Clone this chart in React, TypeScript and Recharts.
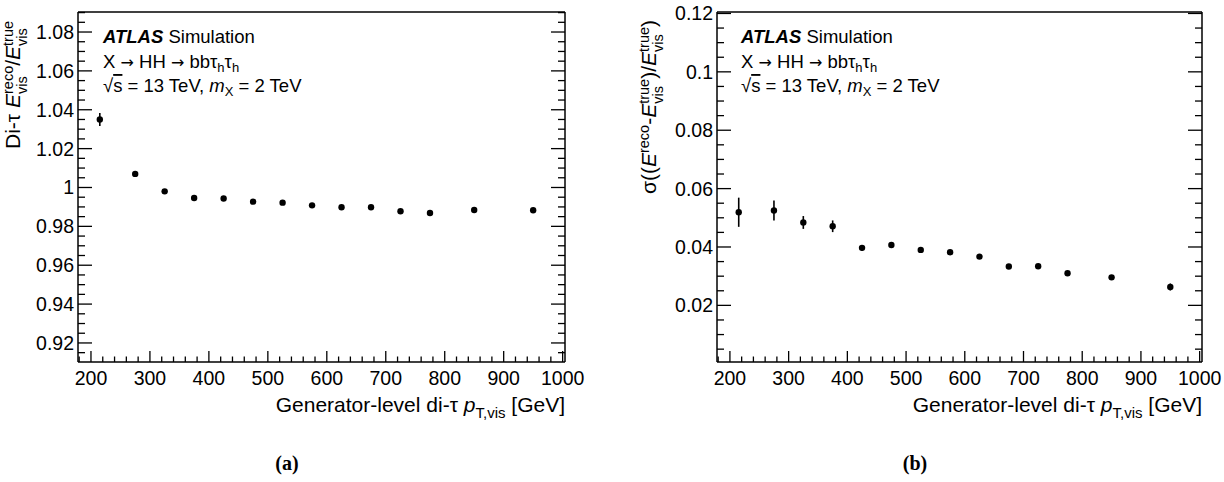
import React from 'react';
import { ScatterChart, Scatter, XAxis, YAxis, ErrorBar } from 'recharts';

// generator-level di-tau visible pT bin centres [GeV]
const ptBins = [215, 275, 325, 375, 425, 475, 525, 575, 625, 675, 725, 775, 850, 950];

// (a) energy scale E_reco / E_true
const scaleValues = [1.035, 1.007, 0.998, 0.9946, 0.9943, 0.9927, 0.9922, 0.9908, 0.9898, 0.9898, 0.9878, 0.9869, 0.9884, 0.9883];
const scaleErrors = [0.0033, 0.0008, 0.0006, 0.0005, 0.0005, 0.0005, 0.0005, 0.0005, 0.0005, 0.0005, 0.0005, 0.0005, 0.0005, 0.0005];

// (b) resolution sigma((E_reco - E_true) / E_true)
const resValues = [0.0519, 0.0525, 0.0484, 0.0471, 0.0397, 0.0407, 0.039, 0.0382, 0.0367, 0.0333, 0.0334, 0.031, 0.0296, 0.0263];
const resErrors = [0.005, 0.0034, 0.0022, 0.002, 0.001, 0.001, 0.0008, 0.0008, 0.0008, 0.0008, 0.0008, 0.0008, 0.0008, 0.0012];

const xMajor = [200, 300, 400, 500, 600, 700, 800, 900, 1000];
const xMajorLabels = ['200', '300', '400', '500', '600', '700', '800', '900', '1000'];
const xAllTicks = [
  180, 200, 220, 240, 260, 280, 300, 320, 340, 360, 380, 400, 420, 440, 460, 480, 500,
  520, 540, 560, 580, 600, 620, 640, 660, 680, 700, 720, 740, 760, 780, 800, 820, 840,
  860, 880, 900, 920, 940, 960, 980, 1000,
];

const yScaleMajor = [0.92, 0.94, 0.96, 0.98, 1, 1.02, 1.04, 1.06, 1.08];
const yScaleLabels = ['0.92', '0.94', '0.96', '0.98', '1', '1.02', '1.04', '1.06', '1.08'];
const yScaleAllTicks = [
  0.915, 0.92, 0.925, 0.93, 0.935, 0.94, 0.945, 0.95, 0.955, 0.96, 0.965, 0.97, 0.975,
  0.98, 0.985, 0.99, 0.995, 1, 1.005, 1.01, 1.015, 1.02, 1.025, 1.03, 1.035, 1.04, 1.045,
  1.05, 1.055, 1.06, 1.065, 1.07, 1.075, 1.08, 1.085, 1.09,
];

const yResMajor = [0.02, 0.04, 0.06, 0.08, 0.1, 0.12];
const yResLabels = ['0.02', '0.04', '0.06', '0.08', '0.1', '0.12'];
const yResAllTicks = [
  0.005, 0.01, 0.015, 0.02, 0.025, 0.03, 0.035, 0.04, 0.045, 0.05, 0.055, 0.06, 0.065,
  0.07, 0.075, 0.08, 0.085, 0.09, 0.095, 0.1, 0.105, 0.11, 0.115, 0.12,
];

const FONT = '"Liberation Sans", Arial, Helvetica, sans-serif';
const CH = 430;
const TICK_FS = 19.5;
const axisStroke = { stroke: '#000', strokeWidth: 1.5 };

type Side = 'bottom' | 'top' | 'left' | 'right';

const makeTick = (side: Side, majors: number[], labels: string[] | null, majorLen: number, minorLen: number) =>
  (p: any) => {
    const v = p.payload.value;
    const idx = majors.findIndex((m) => Math.abs(m - v) < 1e-7);
    const len = idx >= 0 ? majorLen : minorLen;
    const { x, y } = p;
    let line;
    if (side === 'bottom') line = <line x1={x} x2={x} y1={y} y2={y - len} />;
    else if (side === 'top') line = <line x1={x} x2={x} y1={y} y2={y + len} />;
    else if (side === 'left') line = <line x1={x} x2={x + len} y1={y} y2={y} />;
    else line = <line x1={x} x2={x - len} y1={y} y2={y} />;
    let label = null;
    if (labels && idx >= 0) {
      if (side === 'bottom')
        label = <text x={x} y={y + 23} textAnchor="middle" fontSize={TICK_FS} fontFamily={FONT} fill="#000">{labels[idx]}</text>;
      else if (side === 'left')
        label = <text x={x - 4} y={y + 7} textAnchor="end" fontSize={TICK_FS} fontFamily={FONT} fill="#000">{labels[idx]}</text>;
    }
    return (
      <g>
        <g stroke="#000" strokeWidth={1.3}>{line}</g>
        {label}
      </g>
    );
  };

type PanelProps = {
  values: number[];
  errors: number[];
  yDomain: [number, number];
  yMajor: number[];
  yLabels: string[];
  yTicks: number[];
  margin: { top: number; right: number; bottom: number; left: number };
};

const Panel = ({ values, errors, yDomain, yMajor, yLabels, yTicks, margin }: PanelProps) => {
  const data = ptBins.map((x, i) => ({ x, y: values[i], err: errors[i] }));
  const xDomain: [number, number] = [178, 1004];
  return (
    <ScatterChart width={612} height={CH} margin={margin}>
      <XAxis
        xAxisId={0}
        type="number"
        dataKey="x"
        domain={xDomain}
        allowDataOverflow
        ticks={xAllTicks}
        interval={0}
        tickSize={0}
        tickMargin={0}
        tickLine={false}
        axisLine={axisStroke}
        height={30}
        tick={makeTick('bottom', xMajor, xMajorLabels, 11, 5.5)}
      />
      <XAxis
        xAxisId="top"
        orientation="top"
        type="number"
        domain={xDomain}
        allowDataOverflow
        ticks={xAllTicks}
        interval={0}
        tickSize={0}
        tickMargin={0}
        tickLine={false}
        axisLine={axisStroke}
        height={1}
        tick={makeTick('top', xMajor, null, 11, 5.5)}
      />
      <YAxis
        yAxisId={0}
        type="number"
        dataKey="y"
        domain={yDomain}
        allowDataOverflow
        ticks={yTicks}
        interval={0}
        tickSize={0}
        tickMargin={0}
        tickLine={false}
        axisLine={axisStroke}
        width={60}
        tick={makeTick('left', yMajor, yLabels, 14, 7)}
      />
      <YAxis
        yAxisId="right"
        orientation="right"
        type="number"
        domain={yDomain}
        allowDataOverflow
        ticks={yTicks}
        interval={0}
        tickSize={0}
        tickMargin={0}
        tickLine={false}
        axisLine={axisStroke}
        width={1}
        tick={makeTick('right', yMajor, null, 14, 7)}
      />
      <Scatter
        xAxisId={0}
        yAxisId={0}
        data={data}
        dataKey="y"
        isAnimationActive={false}
        shape={(p: any) => <circle cx={p.cx} cy={p.cy} r={3.2} fill="#000" />}
      >
        <ErrorBar dataKey="err" direction="y" width={0} stroke="#000" strokeWidth={1.6} isAnimationActive={false} />
      </Scatter>
    </ScatterChart>
  );
};

const SUP = 13;
const TSUP = 14.5;

const Annotation = ({ x }: { x: number }) => (
  <g fontFamily={FONT} fontSize={18.5} fill="#000">
    <text x={x} y={43}>
      <tspan fontWeight="bold" fontStyle="italic">ATLAS</tspan>
      <tspan> Simulation</tspan>
    </text>
    <text x={x} y={68}>
      <tspan>X </tspan>
      <tspan fontFamily='"DejaVu Sans", sans-serif' fontSize={16}>→</tspan>
      <tspan> HH </tspan>
      <tspan fontFamily='"DejaVu Sans", sans-serif' fontSize={16}>→</tspan>
      <tspan> bbτ</tspan>
      <tspan fontSize={SUP} dy={4}>h</tspan>
      <tspan dy={-4}>τ</tspan>
      <tspan fontSize={SUP} dy={4}>h</tspan>
    </text>
    <text x={x} y={92}>
      <tspan>√</tspan>
      <tspan textDecoration="overline">s</tspan>
      <tspan> = 13 TeV, </tspan>
      <tspan fontStyle="italic">m</tspan>
      <tspan fontSize={SUP} dy={4}>X</tspan>
      <tspan dy={-4}> = 2 TeV</tspan>
    </text>
  </g>
);

const XTitle = ({ right }: { right: number }) => (
  <text x={right} y={412} textAnchor="end" fontFamily={FONT} fontSize={21} fill="#000">
    <tspan>Generator-level di-τ </tspan>
    <tspan fontStyle="italic">p</tspan>
    <tspan fontSize={15} dy={6}>T,vis</tspan>
    <tspan dy={-6}> [GeV]</tspan>
  </text>
);

export default function App() {
  return (
    <div style={{ position: 'absolute', left: 0, top: 0, width: 1224, height: 482, background: '#fff' }}>
      <div style={{ position: 'absolute', left: 0, top: 0 }}>
        <Panel
          values={scaleValues}
          errors={scaleErrors}
          yDomain={[0.9102, 1.0903]}
          yMajor={yScaleMajor}
          yLabels={yScaleLabels}
          yTicks={yScaleAllTicks}
          margin={{ top: 11, right: 46, bottom: 38, left: 18 }}
        />
      </div>
      <div style={{ position: 'absolute', left: 612, top: 0 }}>
        <Panel
          values={resValues}
          errors={resErrors}
          yDomain={[0.0006, 0.1205]}
          yMajor={yResMajor}
          yLabels={yResLabels}
          yTicks={yResAllTicks}
          margin={{ top: 11, right: 21, bottom: 38, left: 45 }}
        />
      </div>
      <svg width={1224} height={482} style={{ position: 'absolute', left: 0, top: 0, pointerEvents: 'none' }}>
        <Annotation x={103} />
        <Annotation x={741} />
        <XTitle right={565} />
        <XTitle right={1202} />
        {/* left y title */}
        <text transform="translate(20,149) rotate(-90)" fontFamily={FONT} fontSize={21} fill="#000">
          <tspan>Di-τ </tspan>
          <tspan fontStyle="italic">E</tspan>
          <tspan fontSize={TSUP} dy={-7}>reco</tspan>
          <tspan fontSize={TSUP} dx={-28.2} dy={14}>vis</tspan>
          <tspan dx={10.5} dy={-7}>/</tspan>
          <tspan fontStyle="italic">E</tspan>
          <tspan fontSize={TSUP} dy={-7}>true</tspan>
          <tspan fontSize={TSUP} dx={-25} dy={14}>vis</tspan>
        </text>
        {/* right y title */}
        <text transform="translate(656,194) rotate(-90)" fontFamily={FONT} fontSize={21} fill="#000">
          <tspan>σ((</tspan>
          <tspan fontStyle="italic">E</tspan>
          <tspan fontSize={TSUP} dy={-7}>reco</tspan>
          <tspan dy={7}>-</tspan>
          <tspan fontStyle="italic">E</tspan>
          <tspan fontSize={TSUP} dy={-7}>true</tspan>
          <tspan fontSize={TSUP} dx={-25} dy={14}>vis</tspan>
          <tspan dx={7.3} dy={-7}>)/</tspan>
          <tspan fontStyle="italic">E</tspan>
          <tspan fontSize={TSUP} dy={-7}>true</tspan>
          <tspan fontSize={TSUP} dx={-25} dy={14}>vis</tspan>
          <tspan dx={7.3} dy={-7}>)</tspan>
        </text>
        <text x={287} y={470} textAnchor="middle" fontFamily='"Liberation Serif", "DejaVu Serif", serif' fontWeight="bold" fontSize={20} fill="#000">(a)</text>
        <text x={915} y={470} textAnchor="middle" fontFamily='"Liberation Serif", "DejaVu Serif", serif' fontWeight="bold" fontSize={20} fill="#000">(b)</text>
      </svg>
    </div>
  );
}
